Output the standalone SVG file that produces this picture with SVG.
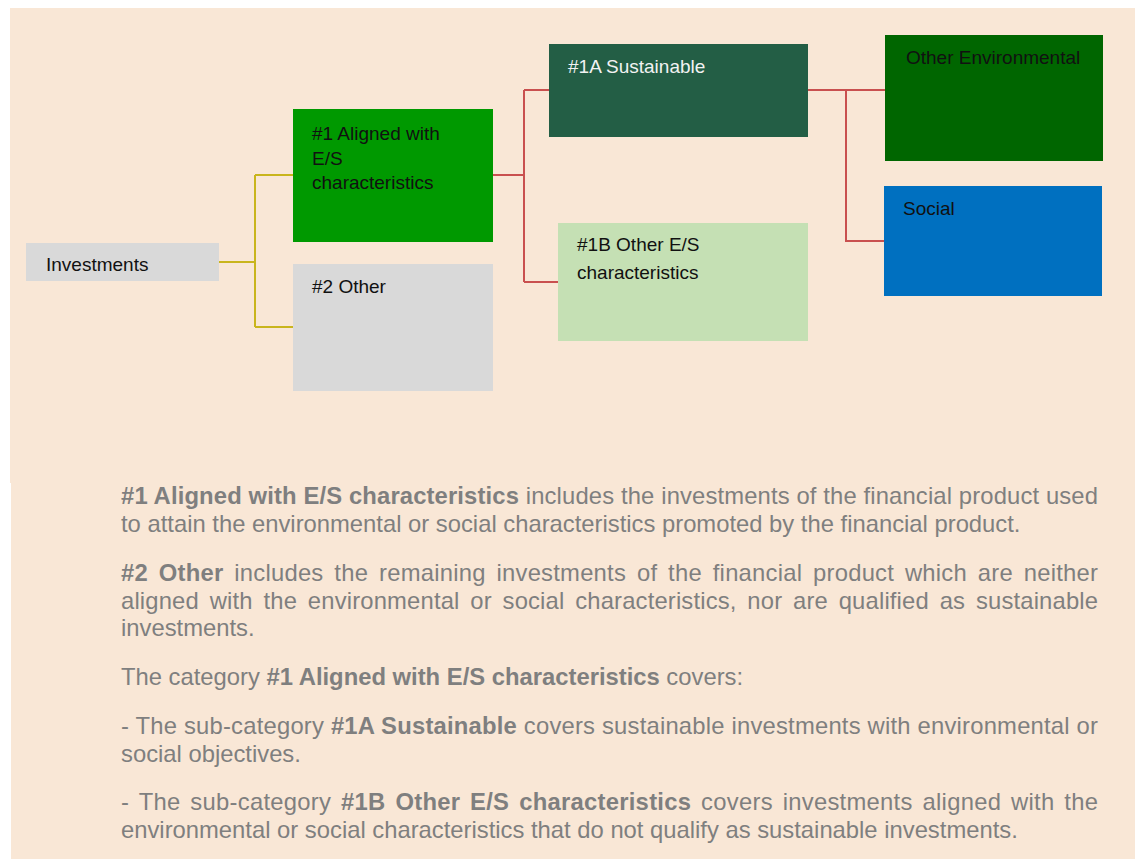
<svg xmlns="http://www.w3.org/2000/svg" width="1135" height="859" viewBox="0 0 1135 859">
<style>
.lbl{font-family:"Liberation Sans",Arial,sans-serif;font-size:19px;fill:#111}
.body{font-family:"Liberation Sans",Arial,sans-serif;font-size:23.8px;fill:#7f7f7f}
.b{font-weight:bold}
.cy{fill:none;stroke:#c9b51d;stroke-width:2}
.cr{fill:none;stroke:#c9504f;stroke-width:2}
</style>
<rect x="0" y="0" width="1135" height="859" fill="#ffffff"/>
<rect x="10" y="8" width="1125" height="475" fill="#f9e7d6"/>
<rect x="11" y="482" width="1124" height="377" fill="#f9e7d6"/>
<g id="connectors">
<path class="cy" d="M219,262 H255 M255,175 V327 M255,175 H293 M255,327 H293"/>
<path class="cr" d="M493,175 H524 M524,90 V282 M524,90 H549 M524,282 H558"/>
<path class="cr" d="M808,90 H886 M846,90 V241 H884"/>
</g>
<g id="investments">
<rect x="26" y="243" width="193" height="38" fill="#d9d9d9"/>
<text class="lbl" x="46" y="271">Investments</text>
</g>
<g id="aligned">
<rect x="293" y="109" width="200" height="133" fill="#009900"/>
<text class="lbl" x="312" y="140">#1 Aligned with</text>
<text class="lbl" x="312" y="165">E/S</text>
<text class="lbl" x="312" y="189">characteristics</text>
</g>
<g id="other">
<rect x="293" y="264" width="200" height="127" fill="#d9d9d9"/>
<text class="lbl" x="312" y="293">#2 Other</text>
</g>
<g id="sustainable">
<rect x="549" y="44" width="259" height="93" fill="#235e45"/>
<text class="lbl" x="568" y="73" style="fill:#f2f2f2">#1A Sustainable</text>
</g>
<g id="otheres">
<rect x="558" y="223" width="250" height="118" fill="#c5e0b4"/>
<text class="lbl" x="577" y="251">#1B Other E/S</text>
<text class="lbl" x="577" y="279">characteristics</text>
</g>
<g id="otherenv">
<rect x="885" y="35" width="218" height="126" fill="#006600"/>
<text class="lbl" x="906" y="64">Other Environmental</text>
</g>
<g id="social">
<rect x="884" y="186" width="218" height="110" fill="#0070c0"/>
<text class="lbl" x="903" y="215">Social</text>
</g>
<g id="description">
<text class="body" x="121" y="504" textLength="977" lengthAdjust="spacing"><tspan class="b">#1 Aligned with E/S characteristics</tspan> includes the investments of the financial product used</text>
<text class="body" x="121" y="532">to attain the environmental or social characteristics promoted by the financial product.</text>
<text class="body" x="121" y="581" textLength="977" lengthAdjust="spacing" word-spacing="4"><tspan class="b">#2 Other</tspan> includes the remaining investments of the financial product which are neither</text>
<text class="body" x="121" y="609" textLength="977" lengthAdjust="spacing" word-spacing="4">aligned with the environmental or social characteristics, nor are qualified as sustainable</text>
<text class="body" x="121" y="636">investments.</text>
<text class="body" x="121" y="685">The category <tspan class="b">#1 Aligned with E/S characteristics</tspan> covers:</text>
<text class="body" x="121" y="734" textLength="977" lengthAdjust="spacing">- The sub-category <tspan class="b">#1A Sustainable</tspan> covers sustainable investments with environmental or</text>
<text class="body" x="121" y="762">social objectives.</text>
<text class="body" x="121" y="810" textLength="977" lengthAdjust="spacing" word-spacing="3">- The sub-category <tspan class="b">#1B Other E/S characteristics</tspan> covers investments aligned with the</text>
<text class="body" x="121" y="838">environmental or social characteristics that do not qualify as sustainable investments.</text>
</g>
</svg>
